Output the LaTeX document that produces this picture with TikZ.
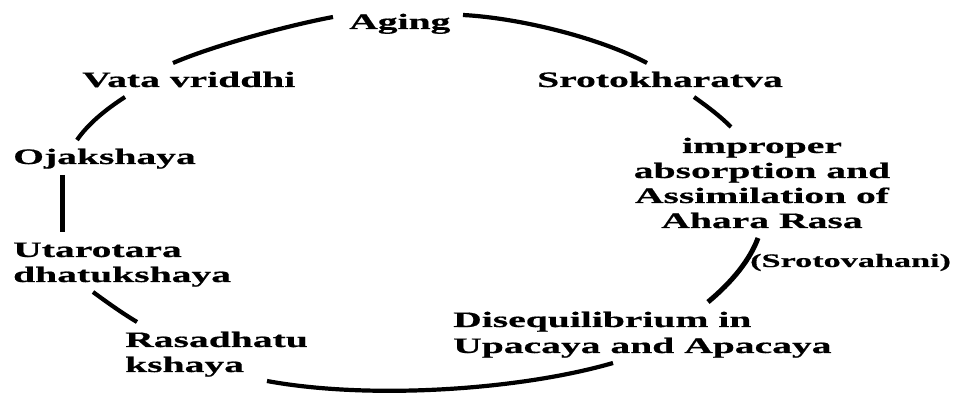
\documentclass[tikz,border=0pt]{standalone}
\usepackage{fontspec}
\newfontface\wideb{Liberation Serif Bold}[FakeStretch=1.8, FakeBold=0.6]
\begin{document}
\begin{tikzpicture}[x=1pt,y=-1pt,
  lbl/.style={inner sep=0pt, anchor=base west, font={\wideb\fontsize{22}{25}\selectfont}},
  cyc/.style={line width=4.2pt, line cap=butt}]
\useasboundingbox (0,0) rectangle (954,395);
\fill[white] (0,0) rectangle (954,395);
% nodes
\node[lbl] (aging) at (349,29) {Aging};
\node[lbl] (vata) at (82,87) {Vata vriddhi};
\node[lbl] (srot) at (537,87) {Srotokharatva};
\node[lbl, anchor=base, align=center] (impr) at (762,228) {improper\\absorption and\\Assimilation of\\Ahara Rasa};
\node[lbl] (ojak) at (13,164) {Ojakshaya};
\node[lbl, align=left] (utar) at (13,282) {Utarotara\\dhatukshaya};
\node[lbl, font={\wideb\fontsize{19}{22}\selectfont}] (srv) at (750,267) {(Srotovahani)};
\node[lbl, align=left, font={\wideb\fontsize{22}{26}\selectfont}] (diseq) at (453,353) {Disequilibrium in\\Upacaya and Apacaya};
\node[lbl, align=left] (rasa) at (125,372) {Rasadhatu\\kshaya};
% arc end points
\coordinate (a1) at (333,17);  \coordinate (a2) at (173,63);
\coordinate (b1) at (463,15);  \coordinate (b2) at (647,63);
\coordinate (c1) at (125,97);  \coordinate (c2) at (77,140);
\coordinate (d1) at (62,175);  \coordinate (d2) at (62,232);
\coordinate (e1) at (93,292);  \coordinate (e2) at (137,322);
\coordinate (f1) at (267,381); \coordinate (f2) at (613,363);
\coordinate (g1) at (758,238); \coordinate (g2) at (708,302);
\coordinate (h1) at (694,97);  \coordinate (h2) at (731,127);
% arcs
\draw[cyc] (a1) .. controls (290,25) and (215,45) .. (a2);
\draw[cyc] (b1) .. controls (520,18) and (600,38) .. (b2);
\draw[cyc] (c1) .. controls (105,110) and (88,124) .. (c2);
\draw[cyc, line width=5pt] (d1) -- (d2);
\draw[cyc] (e1) .. controls (108,303) and (122,313) .. (e2);
\draw[cyc] (f1) .. controls (370,400) and (520,390) .. (f2);
\draw[cyc, line width=5pt] (g1) .. controls (750,260) and (732,282) .. (g2);
\draw[cyc] (h1) .. controls (708,107) and (720,116) .. (h2);
\end{tikzpicture}
\end{document}
